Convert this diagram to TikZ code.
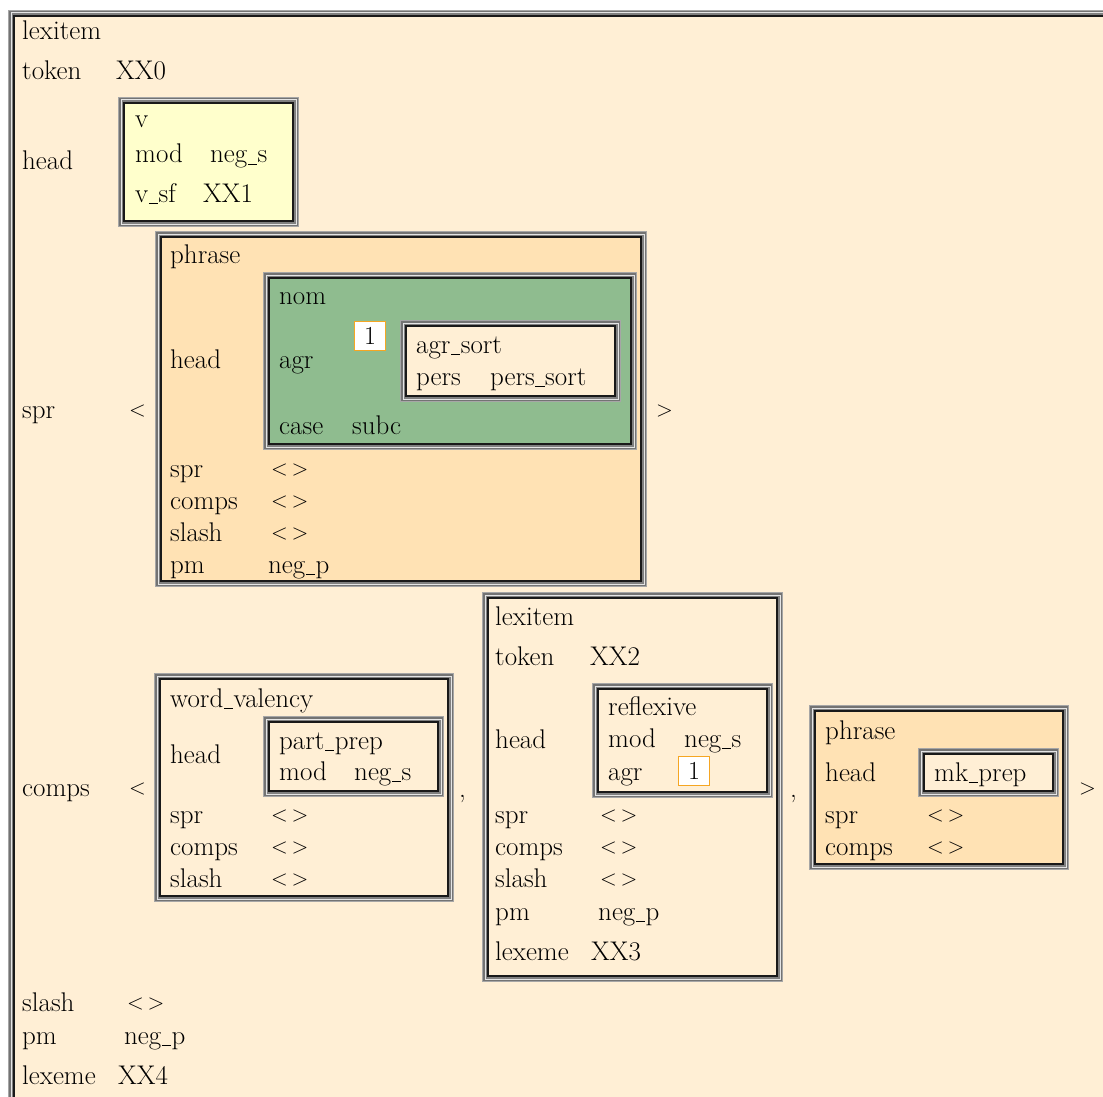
\documentclass[tikz,border=0pt]{standalone}
\usepackage{fontspec}
\usetikzlibrary{positioning,calc}

\definecolor{papaya}{HTML}{FFEFD5}
\definecolor{moccasin}{HTML}{FFE2B4}
\definecolor{paleyel}{HTML}{FFFFCC}
\definecolor{avmgreen}{HTML}{8FBC8F}
\definecolor{tagorange}{HTML}{F5A623}

% short low underscore, as in the screen font
\newcommand{\us}{\kern0.02em\rule[-0.07em]{0.34em}{0.045em}\kern0.02em}

% bevelled frame of an AVM: \avmbox{x1}{y1}{x2}{y2}{fill}
\newcommand{\avmbox}[5]{%
  \fill[black!35] (#1,#2) rectangle (#3,#4);
  \fill[black!55] (#1+1,#2+1) rectangle (#3-1,#4-1);
  \fill[black!10] (#1+2.5,#2+2.5) rectangle (#3-2.5,#4-2.5);
  \fill[black!50] (#1+3.5,#2+3.5) rectangle (#3-3.5,#4-3.5);
  \fill[black!90] (#1+5,#2+5) rectangle (#3-5,#4-5);
  \fill[#5] (#1+7,#2+7) rectangle (#3-7,#4-7);
}

\begin{document}
\begin{tikzpicture}[x=1pt,y=-1pt,
    font=\fontsize{27}{30}\selectfont,
    lbl/.style={anchor=base west,inner sep=0pt},
    ang/.style={lbl,font=\fontsize{22}{24}\selectfont},
    tagbox/.style={draw=tagorange,line width=1.5pt,fill=white,
      minimum width=31,minimum height=29,inner sep=0pt,
      font=\fontsize{26}{28}\selectfont}]
  \clip (0,0) rectangle (1103,1097);
  \fill[white] (0,0) rectangle (1103,1097);
  % outer lexitem
  \avmbox{8}{10}{1125}{1125}{papaya}
  \node[lbl] (lex0) at (22,40) {lexitem};
  \node[lbl] (tok0) at (22,80) {token};
  \node[lbl] (xx0) at (116,80) {XX0};
  \node[lbl] (hd0) at (22,170) {head};
  % head value
  \avmbox{118}{97}{299}{227}{paleyel}
  \node[lbl] (vtype) at (135,128) {v};
  \node[lbl] (vmod) at (135,163) {mod};
  \node[lbl] (vnegs) at (210,163) {neg\us s};
  \node[lbl] (vsf) at (135,202) {v\us sf};
  \node[lbl] (xx1) at (203,202) {XX1};
  % spr < phrase >
  \node[lbl] (spr0) at (22,418) {spr};
  \node[ang] (sprl) at (129,416) {<};
  \node[ang] (sprr) at (656,416) {>};
  \avmbox{155}{231}{647}{587}{moccasin}
  \node[lbl] (ph1) at (170,263) {phrase};
  \node[lbl] (ph1hd) at (170,368) {head};
  \node[lbl] (ph1spr) at (170,477) {spr};
  \node[ang] (ph1sprv) at (271,475) {<\,>};
  \node[lbl] (ph1cmp) at (170,509) {comps};
  \node[ang] (ph1cmpv) at (271,507) {<\,>};
  \node[lbl] (ph1sl) at (170,541) {slash};
  \node[ang] (ph1slv) at (271,539) {<\,>};
  \node[lbl] (ph1pm) at (170,573) {pm};
  \node[lbl] (ph1pmv) at (268,573) {neg\us p};
  % nom
  \avmbox{263}{272}{637}{450}{avmgreen}
  \node[lbl] (nom) at (279,304) {nom};
  \node[lbl] (nomagr) at (279,368) {agr};
  \node[lbl] (nomcase) at (279,434) {case};
  \node[lbl] (subc) at (352,434) {subc};
  \node[tagbox] (tagA) at (370,336) {1};
  \avmbox{400}{320}{621}{402}{papaya}
  \node[lbl] (agrs) at (416,353) {agr\us sort};
  \node[lbl] (pers) at (416,385) {pers};
  \node[lbl] (perss) at (490,385) {pers\us sort};
  % comps < ... >
  \node[lbl] (cmp0) at (22,796) {comps};
  \node[ang] (cmpl) at (129,794) {<};
  \node[lbl] (comA) at (459,797) {,};
  \node[lbl] (comB) at (790,797) {,};
  \node[ang] (cmpr) at (1079,794) {>};
  % first complement
  \avmbox{154}{673}{454}{902}{papaya}
  \node[lbl] (wv) at (170,707) {word\us valency};
  \node[lbl] (wvhd) at (170,763) {head};
  \node[lbl] (wvspr) at (170,823) {spr};
  \node[ang] (wvsprv) at (271,821) {<\,>};
  \node[lbl] (wvcmp) at (170,855) {comps};
  \node[ang] (wvcmpv) at (271,853) {<\,>};
  \node[lbl] (wvsl) at (170,887) {slash};
  \node[ang] (wvslv) at (271,885) {<\,>};
  \avmbox{263}{716}{444}{797}{papaya}
  \node[lbl] (pp) at (279,749) {part\us prep};
  \node[lbl] (ppmod) at (279,780) {mod};
  \node[lbl] (ppnegs) at (354,780) {neg\us s};
  % second complement
  \avmbox{482}{592}{783}{982}{papaya}
  \node[lbl] (lex2) at (495,625) {lexitem};
  \node[lbl] (tok2) at (495,665) {token};
  \node[lbl] (xx2) at (590,665) {XX2};
  \node[lbl] (hd2) at (495,748) {head};
  \node[lbl] (spr2) at (495,823) {spr};
  \node[ang] (spr2v) at (600,821) {<\,>};
  \node[lbl] (cmp2) at (495,855) {comps};
  \node[ang] (cmp2v) at (600,853) {<\,>};
  \node[lbl] (sl2) at (495,887) {slash};
  \node[ang] (sl2v) at (600,885) {<\,>};
  \node[lbl] (pm2) at (495,920) {pm};
  \node[lbl] (pm2v) at (598,920) {neg\us p};
  \node[lbl] (lxm2) at (495,960) {lexeme};
  \node[lbl] (xx3) at (591,960) {XX3};
  \avmbox{592}{683}{773}{798}{papaya}
  \node[lbl] (refl) at (608,715) {reflexive};
  \node[lbl] (reflmod) at (608,747) {mod};
  \node[lbl] (reflnegs) at (684,747) {neg\us s};
  \node[lbl] (reflagr) at (608,780) {agr};
  \node[tagbox] (tagB) at (694,771) {1};
  % third complement
  \avmbox{809}{705}{1069}{870}{moccasin}
  \node[lbl] (ph3) at (825,739) {phrase};
  \node[lbl] (ph3hd) at (825,781) {head};
  \node[lbl] (ph3spr) at (825,823) {spr};
  \node[ang] (ph3sprv) at (927,821) {<\,>};
  \node[lbl] (ph3cmp) at (825,855) {comps};
  \node[ang] (ph3cmpv) at (927,853) {<\,>};
  \avmbox{918}{748}{1059}{797}{papaya}
  \node[lbl] (mkp) at (934,781) {mk\us prep};
  % rest of outer lexitem
  \node[lbl] (sl0) at (22,1011) {slash};
  \node[ang] (sl0v) at (127,1009) {<\,>};
  \node[lbl] (pm0) at (22,1044) {pm};
  \node[lbl] (pm0v) at (124,1044) {neg\us p};
  \node[lbl] (lxm0) at (22,1084) {lexeme};
  \node[lbl] (xx4) at (118,1084) {XX4};
\end{tikzpicture}
\end{document}
